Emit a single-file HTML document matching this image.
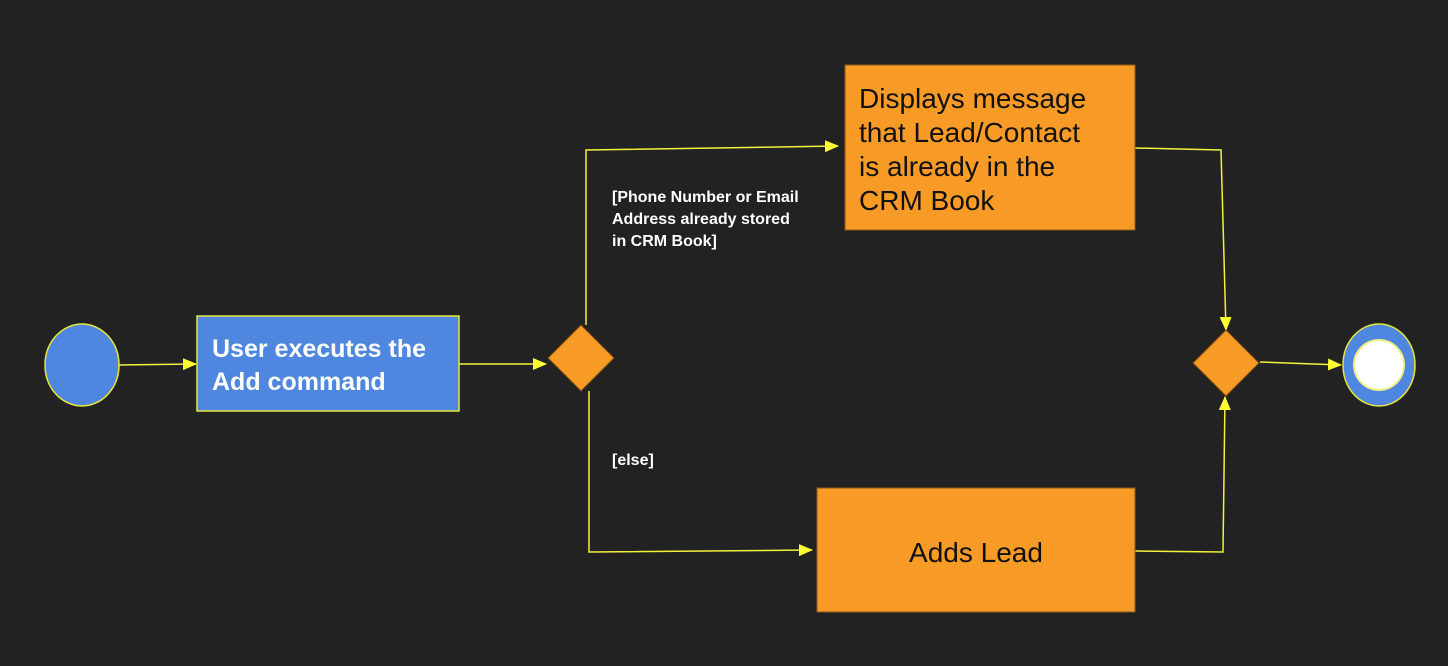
<!DOCTYPE html>
<html><head><meta charset="utf-8"><style>
html,body{margin:0;padding:0;background:#222222;}
svg{display:block;}
</style></head><body>
<svg width="1448" height="666" xmlns="http://www.w3.org/2000/svg" font-family="Liberation Sans, sans-serif">
<defs>
<marker id="a" markerWidth="14" markerHeight="12" refX="13" refY="6" orient="auto" markerUnits="userSpaceOnUse">
<path d="M0,0 L14,6 L0,12 z" fill="#ffff33"/>
</marker>
</defs>
<rect width="1448" height="666" fill="#222222"/>
<g stroke="#f2f23a" stroke-width="1.5" fill="none">
<line x1="119" y1="365" x2="196" y2="364" marker-end="url(#a)"/>
<line x1="459" y1="364" x2="546" y2="364" marker-end="url(#a)"/>
<polyline points="586,325 586,150 838,146" marker-end="url(#a)"/>
<polyline points="589,391 589,552 812,550" marker-end="url(#a)"/>
<polyline points="1135,148 1221,150 1226,330" marker-end="url(#a)"/>
<polyline points="1135,551 1223,552 1225,397" marker-end="url(#a)"/>
<line x1="1260" y1="362" x2="1341" y2="365" marker-end="url(#a)"/>
</g>
<ellipse cx="82" cy="365" rx="37" ry="41" fill="#4f87e0" stroke="#e6e63a" stroke-width="1.5"/>
<rect x="197" y="316" width="262" height="95" fill="#4f87e0" stroke="#e6e63a" stroke-width="1.5"/>
<text fill="#fff" font-size="25" font-weight="bold"><tspan x="212" y="357">User executes the</tspan><tspan x="212" y="390">Add command</tspan></text>
<polygon points="581,325 614,358 581,391 548,358" fill="#f79a26" stroke="#7a4a10" stroke-width="1"/>
<rect x="845" y="65" width="290" height="165" fill="#f79a26" stroke="#8a5a1a" stroke-width="1"/>
<text fill="#111" font-size="28"><tspan x="859" y="108">Displays message</tspan><tspan x="859" y="142">that Lead/Contact</tspan><tspan x="859" y="176">is already in the</tspan><tspan x="859" y="210">CRM Book</tspan></text>
<rect x="817" y="488" width="318" height="124" fill="#f79a26" stroke="#8a5a1a" stroke-width="1"/>
<text x="976" y="562" fill="#111" font-size="28" text-anchor="middle">Adds Lead</text>
<text fill="#fff" font-size="16" font-weight="bold"><tspan x="612" y="202">[Phone Number or Email</tspan><tspan x="612" y="224">Address already stored</tspan><tspan x="612" y="246">in CRM Book]</tspan></text>
<text x="612" y="465" fill="#fff" font-size="16" font-weight="bold">[else]</text>
<polygon points="1226,330 1259,363 1226,396 1193,363" fill="#f79a26" stroke="#7a4a10" stroke-width="1"/>
<ellipse cx="1379" cy="365" rx="36" ry="41" fill="#4f87e0" stroke="#e6e63a" stroke-width="1.5"/>
<circle cx="1379" cy="365" r="25" fill="#ffffff" stroke="#f0f080" stroke-width="2"/>
</svg>
</body></html>
